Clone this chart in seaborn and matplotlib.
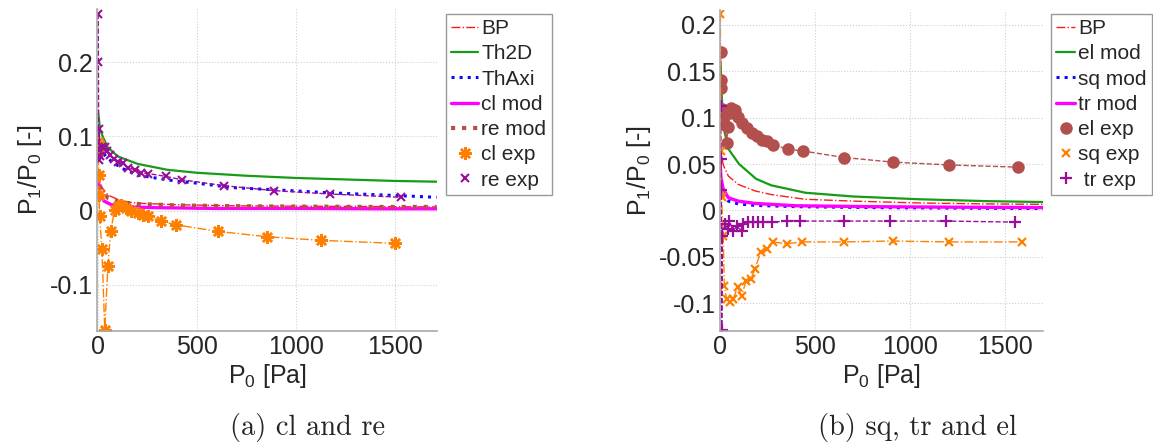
import numpy as np
import matplotlib
matplotlib.use('Agg')
import matplotlib.pyplot as plt
from matplotlib.lines import Line2D
import seaborn as sns

# ---- data (a) cl and re ----
a_bp_p = [2, 8, 17, 50, 118, 200, 400, 700, 1000, 1400, 1710]
a_bp_v = [0.055, 0.042, 0.032, 0.021, 0.013, 0.010, 0.008, 0.0065, 0.006, 0.0055, 0.005]
a_th2d_p = [2, 10, 25, 50, 100, 200, 350, 500, 750, 1000, 1250, 1500, 1710]
a_th2d_v = [0.13, 0.11, 0.099, 0.085, 0.073, 0.063, 0.055, 0.051, 0.047, 0.044, 0.042, 0.040, 0.039]
a_thaxi_p = [2, 10, 25, 50, 120, 200, 290, 390, 500, 680, 900, 1170, 1450, 1710]
a_thaxi_v = [0.097, 0.088, 0.078, 0.070, 0.057, 0.048, 0.044, 0.040, 0.037, 0.031, 0.028, 0.024, 0.021, 0.018]
a_clmod_p = [2, 8, 17, 30, 67, 150, 300, 600, 1000, 1400, 1710]
a_clmod_v = [0.040, 0.027, 0.019, 0.013, 0.008, 0.005, 0.004, 0.003, 0.003, 0.0025, 0.0025]
a_remod_p = [2, 8, 17, 50, 118, 200, 400, 700, 1000, 1400, 1710]
a_remod_v = [0.048, 0.036, 0.028, 0.017, 0.011, 0.009, 0.007, 0.006, 0.0055, 0.005, 0.005]
a_clexp_p = [1, 2, 3, 5, 8, 20, 34, 50, 64, 84, 100, 118, 143, 169, 202, 227, 253, 316, 392, 608, 851, 1127, 1500]
a_clexp_v = [0.093, 0.080, 0.048, 0.0215, -0.0077, -0.052, -0.160, -0.075, -0.028, 0.0013, 0.006, 0.008,
             0.0036, -0.001, -0.003, -0.0054, -0.0077, -0.014, -0.019, -0.028, -0.035, -0.040, -0.044]
a_reexp_p = [1, 2, 4, 6, 12, 22, 34, 48, 63, 80, 101, 126, 152, 186, 219, 253, 345, 423, 636, 888, 1171, 1530]
a_reexp_v = [0.265, 0.200, 0.068, 0.110, 0.074, 0.086, 0.086, 0.080, 0.075, 0.070, 0.066, 0.064, 0.058,
             0.055, 0.051, 0.050, 0.046, 0.0416, 0.0336, 0.027, 0.0224, 0.018]

# ---- data (b) sq, tr and el ----
b_bp_p = [3, 10, 17, 44, 96, 184, 272, 447, 700, 1050, 1400, 1700]
b_bp_v = [0.07, 0.058, 0.049, 0.037, 0.028, 0.021, 0.017, 0.012, 0.010, 0.008, 0.007, 0.0065]
b_elmod_p = [3, 10, 20, 45, 100, 190, 270, 450, 700, 1050, 1400, 1700]
b_elmod_v = [0.16, 0.12, 0.088, 0.066, 0.050, 0.034, 0.027, 0.019, 0.015, 0.012, 0.010, 0.009]
b_sqmod_p = [1, 5, 17, 44, 96, 184, 400, 800, 1200, 1700]
b_sqmod_v = [0.035, 0.025, 0.017, 0.010, 0.007, 0.0054, 0.004, 0.003, 0.0025, 0.002]
b_trmod_p = [1, 5, 17, 44, 96, 184, 400, 800, 1200, 1700]
b_trmod_v = [0.05, 0.035, 0.023, 0.0136, 0.010, 0.0075, 0.005, 0.004, 0.0035, 0.003]
b_elexp_p = [3, 5, 7, 10, 17, 25, 35, 42, 50, 60, 79, 96, 114, 140, 167, 193, 219, 246, 277, 356, 438,
             653, 912, 1207, 1567]
b_elexp_v = [0.171, 0.141, 0.132, 0.109, 0.098, 0.0925, 0.073, 0.090, 0.105, 0.110, 0.108, 0.101, 0.094,
             0.089, 0.0835, 0.080, 0.076, 0.0745, 0.071, 0.066, 0.064, 0.057, 0.052, 0.049, 0.0466]
b_sqexp_p = [2, 4, 6, 8, 17, 23, 35, 53, 68, 93, 114, 137, 163, 184, 214, 246, 277, 351, 430, 653, 912, 1207, 1588]
b_sqexp_v = [0.212, 0.064, 0.019, 0.014, -0.028, -0.082, -0.096, -0.099, -0.096, -0.083, -0.092, -0.076,
             -0.074, -0.063, -0.045, -0.042, -0.034, -0.036, -0.034, -0.034, -0.033, -0.034, -0.034]
b_trexp_p = [3, 5, 7, 9, 12, 26, 44, 49, 70, 88, 114, 123, 149, 175, 202, 228, 272, 351, 421, 653, 895, 1189, 1553]
b_trexp_v = [0.112, 0.055, 0.022, -0.129, -0.028, -0.015, -0.020, -0.0115, -0.022, -0.017, -0.022, -0.015,
             -0.013, -0.0126, -0.0126, -0.0126, -0.013, -0.011, -0.0115, -0.0115, -0.0115, -0.0115, -0.0126]

a_yticks = [-0.1, 0, 0.1, 0.2]
a_yticklabels = ['-0.1', '0', '0.1', '0.2']
b_yticks = [-0.1, -0.05, 0, 0.05, 0.1, 0.15, 0.2]
b_yticklabels = ['-0.1', '-0.05', '0', '0.05', '0.1', '0.15', '0.2']
xticks = [0, 500, 1000, 1500]
xticklabels = ['0', '500', '1000', '1500']

# colours
RED = '#ff1a1a'
GREEN = '#169c16'
BLUE = '#0a0aff'
MAGENTA = '#ff00ff'
BROWN = '#b3504d'
ORANGE = '#ff8000'
PURPLE = '#990f99'
AST = (8, 2, 0)  # asterisk marker

sns.set_theme(style='whitegrid')
plt.rcParams['font.family'] = ['Liberation Sans', 'DejaVu Sans']
plt.rcParams['mathtext.fontset'] = 'custom'
plt.rcParams['mathtext.rm'] = 'Liberation Sans'
plt.rcParams['mathtext.it'] = 'Liberation Sans:italic'

fig = plt.figure(figsize=(11.53, 4.45), dpi=100)
ax1 = fig.add_axes([97 / 1153, 1 - 331 / 445, 340 / 1153, (331 - 8.6) / 445])
ax2 = fig.add_axes([720 / 1153, 1 - 331 / 445, 323 / 1153, (331 - 10) / 445])


def line(ax, x, y, color, ls, lw):
    sns.lineplot(x=x, y=y, ax=ax, color=color, linestyle=ls, linewidth=lw,
                 estimator=None, sort=False)


def exp(ax, x, y, color, ls, marker, ms, mew):
    sns.lineplot(x=x, y=y, ax=ax, color=color, linestyle=ls, linewidth=1,
                 marker=marker, markersize=ms, markeredgewidth=mew,
                 markeredgecolor=color, markerfacecolor=color,
                 estimator=None, sort=False)


# (a)
line(ax1, a_bp_p, a_bp_v, RED, '-.', 1.0)
line(ax1, a_th2d_p, a_th2d_v, GREEN, '-', 1.6)
line(ax1, a_thaxi_p, a_thaxi_v, BLUE, ':', 2.2)
line(ax1, a_clmod_p, a_clmod_v, MAGENTA, '-', 2.4)
line(ax1, a_remod_p, a_remod_v, BROWN, ':', 3.0)
exp(ax1, a_clexp_p, a_clexp_v, ORANGE, '-.', AST, 9, 1.8)
exp(ax1, a_reexp_p, a_reexp_v, PURPLE, '--', 'x', 6, 1.5)

# (b)
line(ax2, b_bp_p, b_bp_v, RED, '-.', 1.0)
line(ax2, b_elmod_p, b_elmod_v, GREEN, '-', 1.6)
line(ax2, b_sqmod_p, b_sqmod_v, BLUE, ':', 2.2)
line(ax2, b_trmod_p, b_trmod_v, MAGENTA, '-', 2.4)
exp(ax2, b_elexp_p, b_elexp_v, BROWN, '--', 'o', 8, 1)
exp(ax2, b_sqexp_p, b_sqexp_v, ORANGE, '-.', 'x', 6, 1.6)
exp(ax2, b_trexp_p, b_trexp_v, PURPLE, '--', '+', 8, 1.6)

ylab = r'P$_\mathregular{1}$/P$_\mathregular{0}$ [-]'
xlab = r'P$_\mathregular{0}$ [Pa]'

for ax, yt, ytl in [(ax1, a_yticks, a_yticklabels), (ax2, b_yticks, b_yticklabels)]:
    ax.set_xticks(xticks)
    ax.set_xticklabels(xticklabels)
    ax.set_yticks(yt)
    ax.set_yticklabels(ytl)
    ax.tick_params(labelsize=18, length=0, pad=3)
    ax.grid(True, color='#cfcfcf', linestyle=':', linewidth=0.8)
    for s in ['top', 'right']:
        ax.spines[s].set_visible(False)
    for s in ['left', 'bottom']:
        ax.spines[s].set_color('#aaaaaa')
        ax.spines[s].set_linewidth(1.2)
    ax.set_xlabel(xlab, fontsize=18, labelpad=2)
    ax.set_ylabel(ylab, fontsize=18, labelpad=4)
    ax.set_facecolor('white')

ax1.set_xlim(-5, 1712)
ax1.set_ylim(-0.162, 0.272)
ax2.set_xlim(0, 1700)
ax2.set_ylim(-0.13, 0.216)

h1 = [Line2D([], [], color=RED, ls='-.', lw=1.0),
      Line2D([], [], color=GREEN, ls='-', lw=1.6),
      Line2D([], [], color=BLUE, ls=':', lw=2.2),
      Line2D([], [], color=MAGENTA, ls='-', lw=2.4),
      Line2D([], [], color=BROWN, ls=':', lw=3.0),
      Line2D([], [], color=ORANGE, ls='none', marker=AST, ms=9, mew=1.8),
      Line2D([], [], color=PURPLE, ls='none', marker='x', ms=6, mew=1.5)]
l1 = ['BP', 'Th2D', 'ThAxi', 'cl mod', 're mod', 'cl exp', 're exp']
h2 = [Line2D([], [], color=RED, ls='-.', lw=1.0),
      Line2D([], [], color=GREEN, ls='-', lw=1.6),
      Line2D([], [], color=BLUE, ls=':', lw=2.2),
      Line2D([], [], color=MAGENTA, ls='-', lw=2.4),
      Line2D([], [], color=BROWN, ls='none', marker='o', ms=8),
      Line2D([], [], color=ORANGE, ls='none', marker='x', ms=6, mew=1.6),
      Line2D([], [], color=PURPLE, ls='none', marker='+', ms=8, mew=1.6)]
l2 = ['BP', 'el mod', 'sq mod', 'tr mod', 'el exp', 'sq exp', ' tr exp']

for ax, h, l, x0, hl in [(ax1, h1, l1, 446, 1.3), (ax2, h2, l2, 1051, 0.9)]:
    leg = ax.legend(h, l, loc='upper left', bbox_to_anchor=(x0 / 1153, 1 - 14 / 445),
                    bbox_transform=fig.transFigure, borderaxespad=0, fontsize=15,
                    handlelength=hl, handletextpad=0.15, labelspacing=0.3,
                    borderpad=0.25, fancybox=False, framealpha=1)
    leg.get_frame().set_edgecolor('#999999')
    leg.get_frame().set_linewidth(1.0)

fig.text(308 / 1153, 1 - 428 / 445, '(a) cl and re', family='cmr10', fontsize=20.5,
         ha='center', va='center')
fig.text(918 / 1153, 1 - 428 / 445, '(b) sq, tr and el', family='cmr10', fontsize=20.5,
         ha='center', va='center')

fig.savefig('out.png', dpi=100, facecolor='white')
